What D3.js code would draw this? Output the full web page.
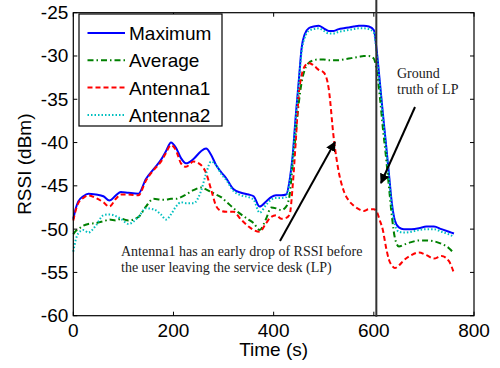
<!DOCTYPE html>
<html>
<head>
<meta charset="utf-8">
<script src="https://cdn.jsdelivr.net/npm/d3@7"></script>
<style>
  body { margin: 0; background: #fff; }
  svg { display: block; }
</style>
</head>
<body>
<div id="plot"></div>
<script>
// Time samples (s) shared by all series
const times = [0,5,10,20,30,45,60,72,85,95,110,130,145,160,175,185,195,205,215,225,240,255,265,275,285,295,305,320,335,350,360,372,385,395,405,415,425,432,438,444,450,456,462,470,480,490,500,510,520,530,540,550,560,570,580,590,600,606,612,618,624,630,636,642,650,660,675,690,705,720,735,750,760];

const maximum = [-48.8,-47.6,-46.8,-46.2,-45.9,-46.0,-46.2,-46.7,-46.1,-45.7,-45.8,-45.9,-44.2,-43.1,-42.0,-41.0,-40.0,-40.6,-41.8,-42.4,-41.9,-41.0,-40.7,-41.4,-42.6,-43.4,-44.1,-45.4,-45.8,-46.0,-46.2,-47.4,-46.8,-46.3,-46.1,-46.1,-46.0,-44.3,-41.5,-37.0,-33.0,-29.0,-27.5,-26.8,-26.6,-26.5,-26.8,-27.1,-27.1,-26.9,-26.8,-26.7,-26.6,-26.5,-26.5,-26.6,-27.0,-29.5,-33.0,-36.6,-40.0,-43.5,-47.0,-49.0,-49.8,-50.0,-50.0,-49.9,-49.7,-49.7,-50.0,-50.3,-50.5];

const average = [-50.6,-50.2,-50.0,-49.6,-49.4,-49.3,-49.1,-48.9,-49.0,-48.8,-49.0,-48.6,-47.4,-46.5,-46.6,-46.6,-46.5,-46.5,-46.3,-46.0,-45.5,-45.2,-45.4,-45.7,-46.0,-46.3,-46.8,-47.6,-48.3,-48.9,-49.3,-50.1,-48.8,-47.5,-47.6,-47.8,-47.4,-46.0,-42.5,-39.0,-35.5,-33.0,-31.6,-30.8,-30.5,-30.4,-30.4,-30.5,-30.5,-30.5,-30.4,-30.3,-30.2,-30.1,-30.0,-30.0,-30.3,-31.8,-34.7,-38.3,-41.5,-45.0,-48.5,-51.0,-52.0,-51.8,-51.5,-51.3,-51.3,-51.4,-51.7,-52.2,-52.8];

const antenna1 = [-49.0,-47.8,-47.0,-46.4,-46.1,-46.4,-46.9,-47.4,-46.5,-46.0,-46.0,-46.1,-44.4,-43.2,-42.2,-41.2,-40.3,-40.9,-42.4,-42.8,-42.2,-42.6,-43.5,-45.4,-47.3,-47.9,-48.0,-48.0,-48.9,-49.7,-50.1,-50.3,-49.3,-48.6,-48.4,-48.8,-48.7,-48.3,-45.0,-40.0,-34.5,-32.2,-31.2,-30.8,-31.1,-31.6,-31.9,-33.8,-39.5,-43.4,-45.6,-46.7,-47.3,-47.7,-47.9,-47.7,-47.7,-48.0,-49.0,-50.1,-52.0,-53.5,-54.2,-54.5,-54.2,-53.6,-53.0,-52.7,-53.0,-53.4,-53.1,-53.7,-55.1];

const antenna2 = [-52.6,-51.2,-50.5,-50.1,-50.4,-49.6,-48.4,-48.3,-48.5,-48.8,-49.4,-48.6,-47.6,-47.7,-48.3,-48.9,-48.3,-47.4,-46.9,-47.0,-47.0,-45.6,-43.6,-42.2,-42.6,-43.6,-44.3,-45.6,-46.1,-46.3,-46.6,-48.1,-47.2,-46.6,-46.4,-46.4,-46.3,-44.6,-41.8,-37.4,-33.3,-29.4,-27.9,-27.1,-26.9,-26.8,-27.1,-27.4,-27.4,-27.2,-27.1,-27.0,-26.9,-26.8,-26.8,-26.9,-27.3,-29.8,-33.3,-36.9,-40.3,-43.8,-47.4,-49.5,-50.3,-50.4,-50.3,-50.1,-50.0,-50.0,-50.3,-50.6,-50.9];

const seriesNames = ["Maximum", "Average", "Antenna1", "Antenna2"];
const xTicks = [0, 200, 400, 600, 800];
const yTicks = [-60, -55, -50, -45, -40, -35, -30, -25];
const groundTruth = 605;

// layout
const W = 500, H = 368;
const margin = {top: 12.7, right: 26, bottom: 52.3, left: 73.3};
const width = W - margin.left - margin.right;
const height = H - margin.top - margin.bottom;

const svg = d3.select("#plot").append("svg")
    .attr("width", W)
    .attr("height", H);

const g = svg.append("g")
    .attr("transform", `translate(${margin.left},${margin.top})`);

const x = d3.scaleLinear().domain([0, 800]).range([0, width]);
const y = d3.scaleLinear().domain([-60, -25]).range([height, 0]);

const font = "Liberation Sans, Arial, sans-serif";

// series styles
const styles = [
    {name: "Maximum", values: maximum, color: "#0000ff", dash: null},
    {name: "Average", values: average, color: "#008000", dash: "6,3,1.5,3"},
    {name: "Antenna1", values: antenna1, color: "#ff0000", dash: "5,3"},
    {name: "Antenna2", values: antenna2, color: "#00bfbf", dash: "1.5,2"}
];

const line = d3.line()
    .x(d => x(d[0]))
    .y(d => y(d[1]))
    .curve(d3.curveMonotoneX);

styles.forEach(s => {
    g.append("path")
        .datum(times.map((t, i) => [t, s.values[i]]))
        .attr("fill", "none")
        .attr("stroke", s.color)
        .attr("stroke-width", 2)
        .attr("stroke-dasharray", s.dash)
        .attr("d", line);
});

// axes box with inside ticks (all four sides)
const tickLen = 4;
g.append("rect")
    .attr("width", width).attr("height", height)
    .attr("fill", "none").attr("stroke", "#000").attr("stroke-width", 1.2);

xTicks.forEach(t => {
    g.append("line").attr("x1", x(t)).attr("x2", x(t))
        .attr("y1", height).attr("y2", height - tickLen).attr("stroke", "#000");
    g.append("line").attr("x1", x(t)).attr("x2", x(t))
        .attr("y1", 0).attr("y2", tickLen).attr("stroke", "#000");
    g.append("text").attr("x", x(t)).attr("y", height + 21)
        .attr("text-anchor", "middle")
        .attr("font-family", font).attr("font-size", 19)
        .text(t);
});

yTicks.forEach(t => {
    g.append("line").attr("x1", 0).attr("x2", tickLen)
        .attr("y1", y(t)).attr("y2", y(t)).attr("stroke", "#000");
    g.append("line").attr("x1", width).attr("x2", width - tickLen)
        .attr("y1", y(t)).attr("y2", y(t)).attr("stroke", "#000");
    g.append("text").attr("x", -5).attr("y", y(t) + 6.5)
        .attr("text-anchor", "end")
        .attr("font-family", font).attr("font-size", 19)
        .text(t);
});

// axis labels
svg.append("text")
    .attr("x", margin.left + width / 2).attr("y", 356)
    .attr("text-anchor", "middle")
    .attr("font-family", font).attr("font-size", 19)
    .text("Time (s)");

svg.append("text")
    .attr("transform", `translate(31,${margin.top + height / 2}) rotate(-90)`)
    .attr("text-anchor", "middle")
    .attr("font-family", font).attr("font-size", 19)
    .text("RSSI (dBm)");

// ground truth line
svg.append("line")
    .attr("x1", margin.left + x(groundTruth)).attr("x2", margin.left + x(groundTruth))
    .attr("y1", 0).attr("y2", margin.top + height + 1)
    .attr("stroke", "#333").attr("stroke-width", 2);

// legend
const legend = svg.append("g").attr("transform", "translate(79,14)");
legend.append("rect")
    .attr("width", 143).attr("height", 112)
    .attr("fill", "#fff").attr("stroke", "#000").attr("stroke-width", 1.2);
styles.forEach((s, i) => {
    const ly = 19 + i * 27.3;
    legend.append("line")
        .attr("x1", 8.5).attr("x2", 46)
        .attr("y1", ly).attr("y2", ly)
        .attr("stroke", s.color).attr("stroke-width", 2)
        .attr("stroke-dasharray", s.dash);
    legend.append("text")
        .attr("x", 50).attr("y", ly + 7)
        .attr("font-family", font).attr("font-size", 19)
        .text(seriesNames[i]);
});

// annotations
const serif = "Liberation Serif, 'DejaVu Serif', serif";
svg.append("defs").append("marker")
    .attr("id", "arrow")
    .attr("viewBox", "0 0 10 10")
    .attr("refX", 9).attr("refY", 5)
    .attr("markerWidth", 5).attr("markerHeight", 5)
    .attr("orient", "auto")
    .append("path").attr("d", "M0,0 L10,5 L0,10 Z").attr("fill", "#000");

svg.append("line")
    .attr("x1", 280).attr("y1", 241).attr("x2", 335).attr("y2", 142)
    .attr("stroke", "#000").attr("stroke-width", 2)
    .attr("marker-end", "url(#arrow)");
svg.append("line")
    .attr("x1", 415).attr("y1", 107).attr("x2", 381).attr("y2", 183)
    .attr("stroke", "#000").attr("stroke-width", 2)
    .attr("marker-end", "url(#arrow)");

const note1 = svg.append("text")
    .attr("font-family", serif).attr("font-size", 14).attr("fill", "#222");
note1.append("tspan").attr("x", 121).attr("y", 256)
    .text("Antenna1 has an early drop of RSSI before");
note1.append("tspan").attr("x", 121).attr("y", 272)
    .text("the user leaving the service desk (LP)");

const note2 = svg.append("text")
    .attr("font-family", serif).attr("font-size", 14).attr("fill", "#222");
note2.append("tspan").attr("x", 397).attr("y", 78).text("Ground");
note2.append("tspan").attr("x", 397).attr("y", 94).text("truth of LP");
</script>
</body>
</html>
